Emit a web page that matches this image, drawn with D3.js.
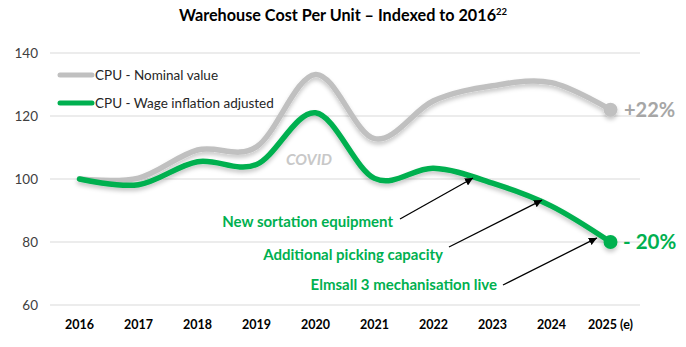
<!DOCTYPE html>
<html>
<head>
<meta charset="utf-8">
<script src="https://cdn.jsdelivr.net/npm/d3@7"></script>
<style>
  html, body { margin: 0; padding: 0; background: #fff; }
  svg { display: block; font-family: Lato, "Open Sans", sans-serif; }
</style>
</head>
<body>
<div id="chart"></div>
<script>
const years = ["2016", "2017", "2018", "2019", "2020", "2021", "2022", "2023", "2024", "2025 (e)"];
const nominal = [100, 100.3, 109.2, 110.2, 133.2, 112.8, 124.8, 129.6, 130.6, 122];
const wageAdjusted = [100, 98.2, 105.5, 104.6, 121, 100.2, 103.4, 98.7, 91.4, 80];
const yTicks = [60, 80, 100, 120, 140];

// arrows: "at" is a fractional year index along the x axis, "v" the index value
const notes = [
    { text: "New sortation equipment", tx: 393, ty: 222, from: [400, 219], at: 6.67, v: 100.3 },
    { text: "Additional picking capacity", tx: 443, ty: 255, from: [449, 247], at: 7.84, v: 93.3 },
    { text: "Elmsall 3 mechanisation live", tx: 497, ty: 285, from: [503, 285], at: 8.77, v: 81.3 }
];

const W = 686, H = 347;
const GREEN = "#00b050", GREY = "#c0c0c0";

const svg = d3.select("#chart").append("svg")
    .attr("width", W)
    .attr("height", H);

const defs = svg.append("defs");
defs.append("filter")
    .attr("id", "shadow")
    .attr("x", "-10%").attr("y", "-20%")
    .attr("width", "120%").attr("height", "160%")
    .append("feDropShadow")
    .attr("dx", 0).attr("dy", 3)
    .attr("stdDeviation", 2)
    .attr("flood-color", "#000")
    .attr("flood-opacity", 0.22);

defs.append("marker")
    .attr("id", "arrow")
    .attr("viewBox", "0 0 10 10")
    .attr("refX", 10).attr("refY", 5)
    .attr("markerWidth", 8).attr("markerHeight", 8)
    .attr("markerUnits", "userSpaceOnUse")
    .attr("orient", "auto")
    .append("path")
    .attr("d", "M0,0 L10,5 L0,10 z")
    .attr("fill", "#000");

const x = d3.scaleBand().domain(years).range([50, 640]);
const xc = d => x(d) + x.bandwidth() / 2;
const xi = d3.scaleLinear().domain([0, years.length - 1]).range([xc(years[0]), xc(years[years.length - 1])]);
const y = d3.scaleLinear().domain([60, 140]).range([305, 53]);

// title with superscript footnote
const title = svg.append("text")
    .attr("x", 343).attr("y", 21)
    .attr("text-anchor", "middle")
    .attr("font-size", 16.2)
    .attr("font-weight", "bold")
    .attr("fill", "#000");
title.append("tspan").text("Warehouse Cost Per Unit \u2013 Indexed to 2016");
title.append("tspan").attr("dy", -6).attr("font-size", 9.5).text("22");

// gridlines + y labels
svg.append("g")
    .selectAll("line")
    .data(yTicks)
    .enter()
    .append("line")
    .attr("x1", 50).attr("x2", 640)
    .attr("y1", d => y(d)).attr("y2", d => y(d))
    .attr("stroke", "#d9d9d9")
    .attr("stroke-width", 1);

svg.append("g")
    .selectAll("text")
    .data(yTicks)
    .enter()
    .append("text")
    .attr("x", 38)
    .attr("y", d => y(d))
    .attr("dy", "0.35em")
    .attr("text-anchor", "end")
    .attr("font-size", 13.5)
    .attr("fill", "#404040")
    .text(d => d);

// x labels
svg.append("g")
    .selectAll("text")
    .data(years)
    .enter()
    .append("text")
    .attr("x", d => xc(d))
    .attr("y", 329)
    .attr("text-anchor", "middle")
    .attr("font-size", 12.5)
    .attr("font-weight", "bold")
    .attr("fill", "#000")
    .text(d => d);

const line = d3.line()
    .x((d, i) => xi(i))
    .y(d => y(d))
    .curve(d3.curveCatmullRom.alpha(0));

const series = [
    { values: nominal, color: GREY },
    { values: wageAdjusted, color: GREEN }
];

const lines = svg.append("g").attr("filter", "url(#shadow)");
series.forEach(s => {
    lines.append("path")
        .attr("d", line(s.values))
        .attr("fill", "none")
        .attr("stroke", s.color)
        .attr("stroke-width", 5.5)
        .attr("stroke-linecap", "round");
    const last = s.values.length - 1;
    lines.append("circle")
        .attr("cx", xi(last))
        .attr("cy", y(s.values[last]))
        .attr("r", 7)
        .attr("fill", s.color);
});

// end labels
svg.append("text")
    .attr("x", 624).attr("y", y(nominal[nominal.length - 1]))
    .attr("dy", "0.35em")
    .attr("font-size", 20).attr("font-weight", "bold")
    .attr("fill", "#a6a6a6")
    .text("+22%");
svg.append("text")
    .attr("x", 623).attr("y", y(wageAdjusted[wageAdjusted.length - 1]))
    .attr("dy", "0.35em")
    .attr("font-size", 20.5).attr("font-weight", "bold")
    .attr("fill", GREEN)
    .text("- 20%");

svg.append("text")
    .attr("x", 309).attr("y", 160)
    .attr("dy", "0.35em")
    .attr("text-anchor", "middle")
    .attr("font-size", 15.5).attr("font-weight", "bold").attr("font-style", "italic")
    .attr("fill", "#c8c8c8")
    .text("COVID");

// legend
const legend = svg.append("g");
[["CPU - Nominal value", GREY, 75], ["CPU - Wage inflation adjusted", GREEN, 103]].forEach(([label, color, ly]) => {
    legend.append("line")
        .attr("x1", 60).attr("x2", 92)
        .attr("y1", ly).attr("y2", ly)
        .attr("stroke", color)
        .attr("stroke-width", 5)
        .attr("stroke-linecap", "round");
    legend.append("text")
        .attr("x", 95).attr("y", ly)
        .attr("dy", "0.35em")
        .attr("font-size", 13.5)
        .attr("fill", "#262626")
        .text(label);
});

// annotations
const ann = svg.append("g");
notes.forEach(n => {
    ann.append("text")
        .attr("x", n.tx).attr("y", n.ty)
        .attr("dy", "0.35em")
        .attr("text-anchor", "end")
        .attr("font-size", 15).attr("font-weight", "bold")
        .attr("fill", GREEN)
        .text(n.text);
    ann.append("line")
        .attr("x1", n.from[0]).attr("y1", n.from[1])
        .attr("x2", xi(n.at)).attr("y2", y(n.v))
        .attr("stroke", "#000")
        .attr("stroke-width", 1.3)
        .attr("marker-end", "url(#arrow)");
});
</script>
</body>
</html>
